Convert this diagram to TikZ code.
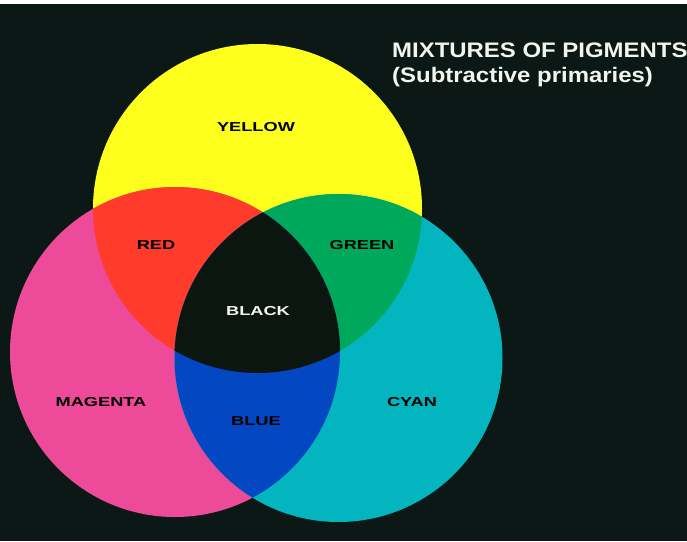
\documentclass[tikz,border=0pt]{standalone}
\usepackage{fontspec}
\setmainfont{Liberation Sans}
\definecolor{bgc}{HTML}{0B1815}
\definecolor{yel}{HTML}{FFFF1E}
\definecolor{red1}{HTML}{FF3B2B}
\definecolor{grn}{HTML}{00A85C}
\definecolor{mag}{HTML}{EE4A9A}
\definecolor{cya}{HTML}{03B5BE}
\definecolor{blu}{HTML}{0348C2}
\definecolor{blk}{HTML}{0C1611}
\definecolor{ttl}{HTML}{F2F5EC}
\tikzset{
  lab/.style={font=\bfseries\fontsize{13}{13}\selectfont, text=black, inner sep=0pt},
  ttlstyle/.style={font=\bfseries\fontsize{21}{21}\selectfont, text=ttl, inner sep=0pt, anchor=west},
}
\newcommand{\wide}[2][1.4]{\scalebox{#1}[1]{#2}}
\begin{document}
\begin{tikzpicture}[x=1pt,y=-1pt]
\useasboundingbox (0,0) rectangle (687,541);
\fill[bgc] (0,0) rectangle (687,541);
\fill[white] (0,0) rectangle (687,4);
\def\Y{(257.5,208.5) circle (164.5)}
\def\M{(175,352) circle (165)}
\def\C{(338.5,358) circle (164)}
\fill[yel] \Y;
\fill[mag] \M;
\fill[cya] \C;
\begin{scope}\clip \Y; \fill[red1] \M; \end{scope}
\begin{scope}\clip \Y; \fill[grn] \C; \end{scope}
\begin{scope}\clip \M; \fill[blu] \C; \end{scope}
\begin{scope}\clip \Y; \clip \M; \fill[blk] \C; \end{scope}
\node[lab] (yl) at (256,127) {\wide{YELLOW}};
\node[lab] (rl) at (156,245) {\wide{RED}};
\node[lab] (gl) at (362,245) {\wide{GREEN}};
\node[lab, text=ttl] (kl) at (258,311) {\wide{BLACK}};
\node[lab] (ml) at (101,402) {\wide{MAGENTA}};
\node[lab] (bl) at (256,421) {\wide{BLUE}};
\node[lab] (cl) at (412,402) {\wide{CYAN}};
\node[ttlstyle] (t1) at (392,50) {\wide[1.14]{MIXTURES OF PIGMENTS}};
\node[ttlstyle] (t2) at (392,77) {\wide[1.14]{(Subtractive primaries)}};
\end{tikzpicture}
\end{document}
